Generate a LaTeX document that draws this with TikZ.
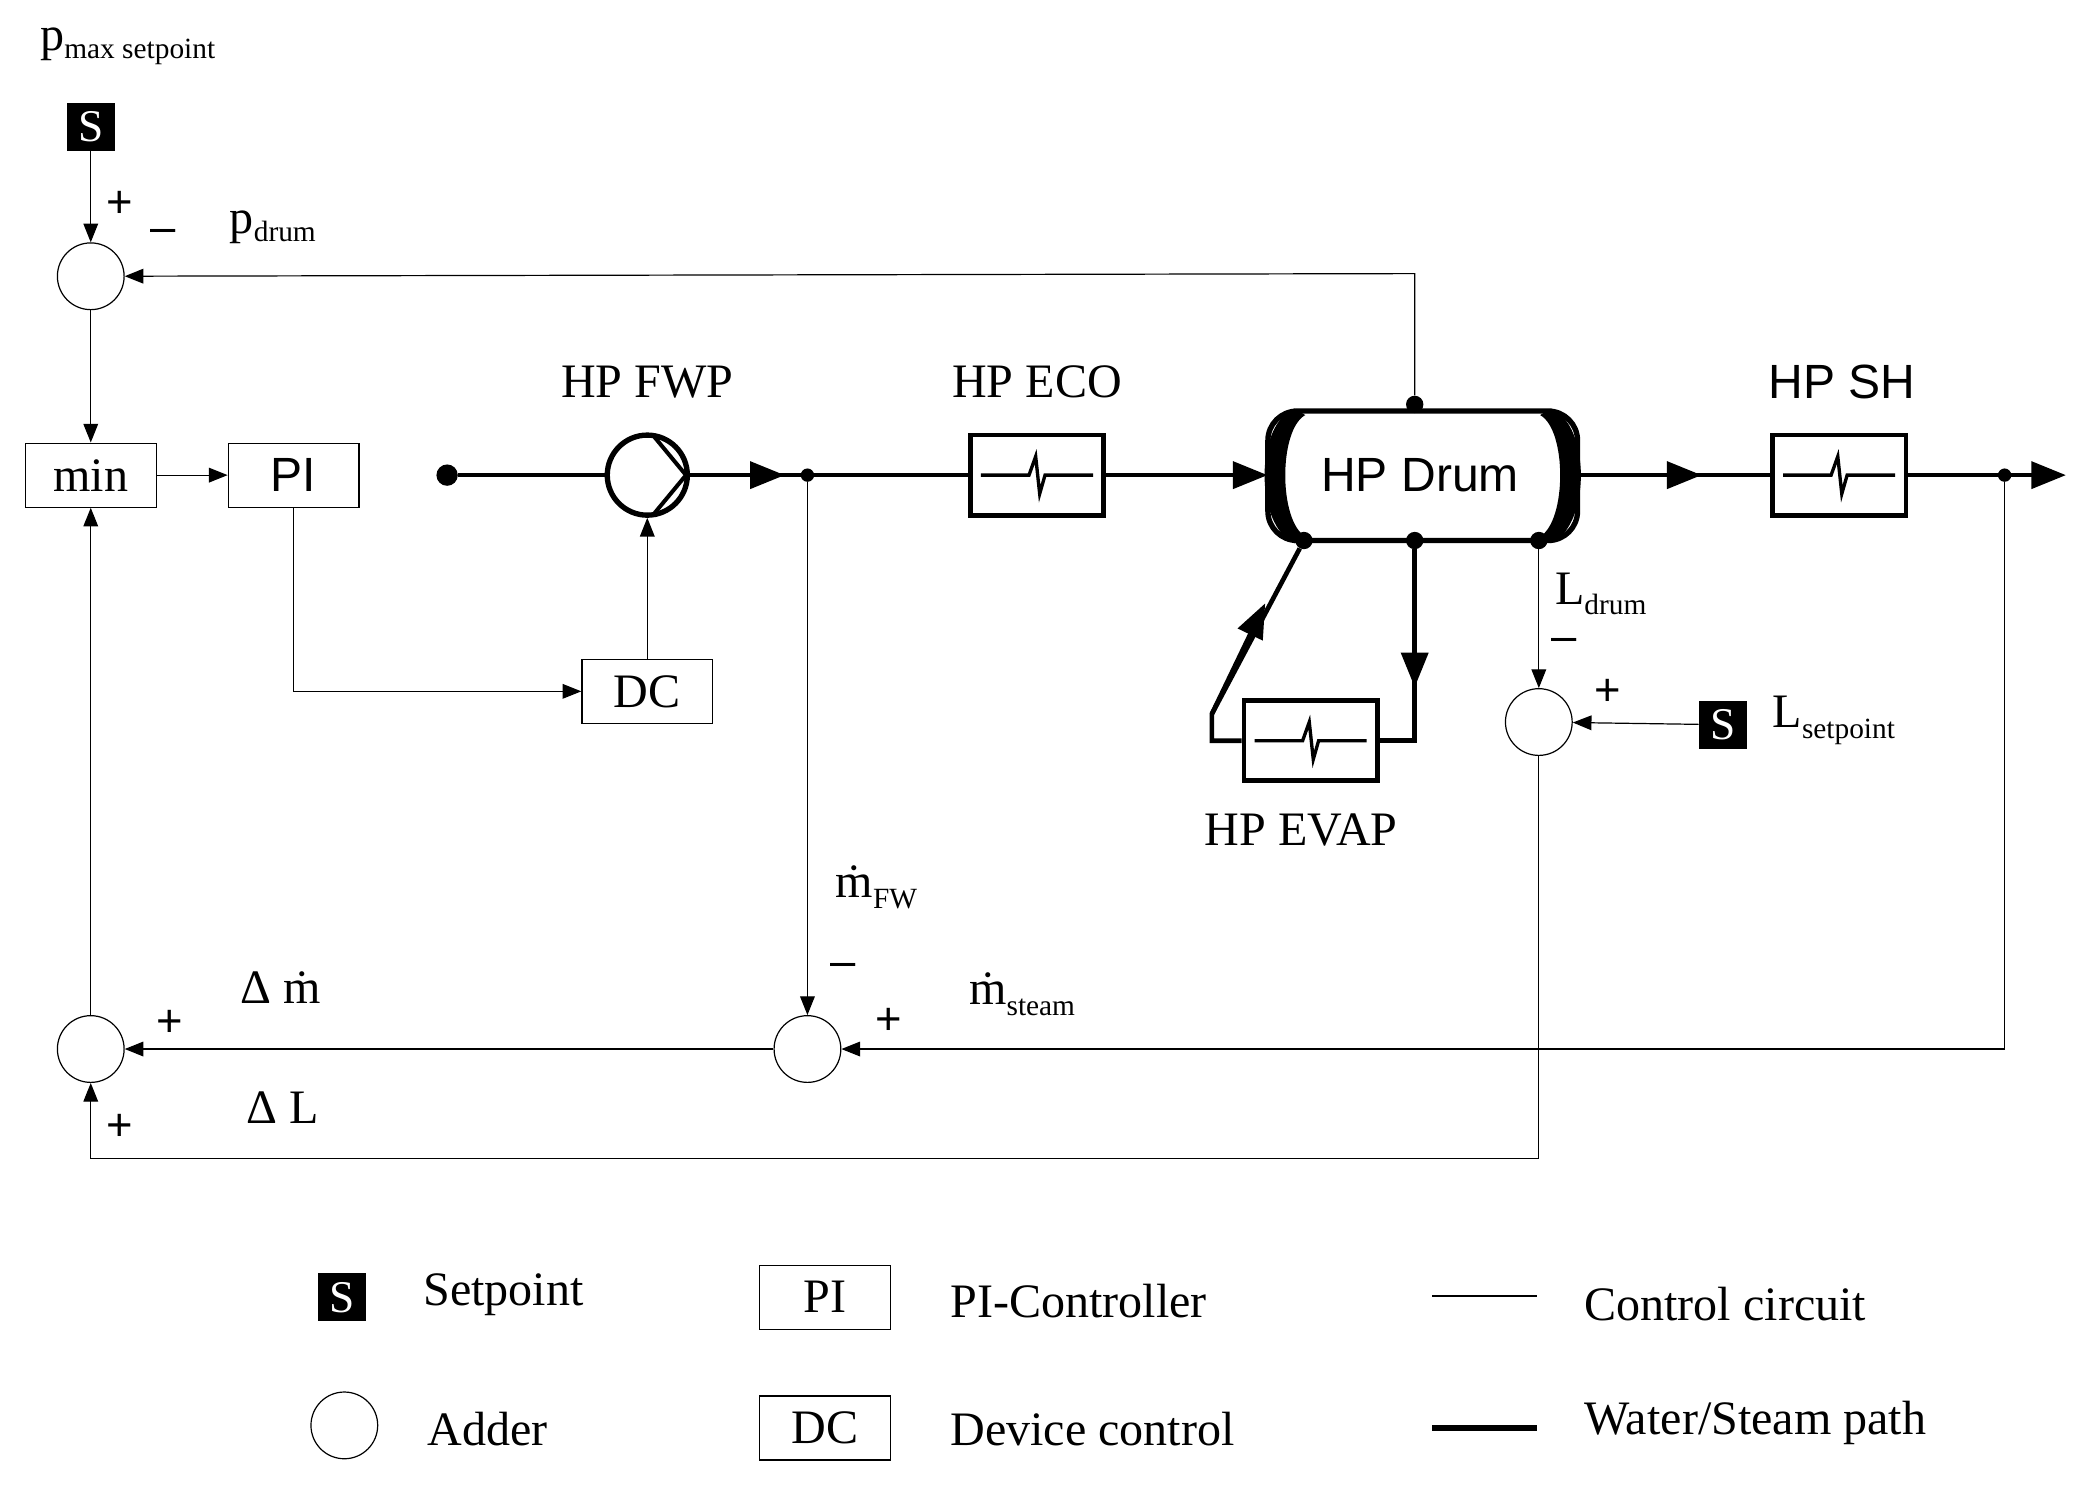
\documentclass[tikz,border=0pt]{standalone}
\usepackage{fontspec}
\setmainfont{Liberation Serif}
\newfontfamily\sansf{Liberation Sans}
\usetikzlibrary{arrows.meta}
\newcommand{\mdot}{\.{m}}
\begin{document}
\begin{tikzpicture}[x=1pt,y=-1pt,
 thin/.style={line width=0.9pt},
 thick/.style={line width=3.5pt},
 arr/.style={-{Triangle[length=14pt,width=11pt]}},
 tarr/.style={-{Triangle[length=26pt,width=20pt]}},
 add/.style={circle,draw,thin,minimum size=50pt,inner sep=0pt},
 box/.style={draw,thin,minimum width=98pt,minimum height=48pt,inner sep=0pt,font=\fontsize{36}{40}\selectfont},
 sp/.style={fill=black,text=white,minimum size=36pt,inner sep=0pt,font=\fontsize{34}{36}\selectfont},
 hx/.style={draw,line width=3.5pt,minimum width=100pt,minimum height=60pt},
 lab/.style={font=\fontsize{36}{40}\selectfont,inner sep=0pt},
 pm/.style={font=\sansf\fontsize{34}{36}\selectfont,inner sep=0pt},
 dot/.style={circle,fill,inner sep=0pt,minimum size=#1}]
\useasboundingbox (0,0) rectangle (1560,1112);
% top-left
\node[lab,anchor=west] (pmax) at (30,35) {p\raisebox{-6pt}{\fontsize{22}{24}\selectfont max setpoint}};
\node[sp] (s1) at (68,95) {S};
\node[add] (a1) at (68,207) {};
\node[pm] at (90,153) {+};
\node[pm] at (122,177) {–};
\node[lab,anchor=west] (pd) at (172,170) {p\raisebox{-6pt}{\fontsize{22}{24}\selectfont drum}};
\node[box] (min) at (68,356) {min};
\node[box,font=\sansf\fontsize{36}{40}\selectfont] (pi) at (220,356) {PI};
\node[box] (dc) at (485,518) {DC};
\draw[thin,arr] (s1) -- (a1);
\draw[thin,arr] (a1) -- (min);
\draw[thin,arr] (min) -- (pi);
\draw[thin,arr] (pi.south) |- (dc.west);
% water path
\node[dot=16pt] (src) at (335,356) {};
\node[circle,draw,line width=4pt,minimum size=60pt,inner sep=0pt] (pump) at (485,356) {};
\draw[line width=3pt] (490,327) -- (514,356) -- (490,385);
\node[lab] at (485,286) {HP FWP};
\node[dot=10pt] (j1) at (605,356) {};
\node[hx] (eco) at (777,356) {};
\node[lab] at (777,286) {HP ECO};
\node[minimum width=232pt,minimum height=97pt,inner sep=0pt] (drum) at (1066,356) {};
\draw[line width=4pt,rounded corners=22pt] (950,308) rectangle (1182,405);
\fill (970,306) .. controls (940,318) and (940,394) .. (970,407) -- (978,402) .. controls (958,390) and (958,322) .. (978,311) -- cycle;
\fill (1162,306) .. controls (1192,318) and (1192,394) .. (1162,407) -- (1154,402) .. controls (1174,390) and (1174,322) .. (1154,311) -- cycle;
\node[lab,font=\sansf\fontsize{36}{40}\selectfont] at (1064,356) {HP Drum};
\node[hx] (sh) at (1378,356) {};
\node[lab,font=\sansf\fontsize{36}{40}\selectfont] at (1380,286) {HP SH};
\node[dot=10pt] (j2) at (1502,356) {};
\coordinate (out) at (1548,356);
\foreach \b in {eco,sh}{
 \draw[line width=2.5pt] ([xshift=-42pt]\b.center) -- ([xshift=-6pt]\b.center) -- ([xshift=-1pt,yshift=14pt]\b.center) -- ([xshift=2pt,yshift=-14pt]\b.center) -- ([xshift=6pt]\b.center) -- ([xshift=42pt]\b.center);}
\draw[thick] (src) -- (pump);
\draw[thick,tarr] (pump) -- (588,356);
\draw[thick] (580,356) -- (eco);
\draw[thick,tarr] (eco) -- (drum.west);
\draw[thick,tarr] (drum.east) -- (1275,356);
\draw[thick] (1270,356) -- (sh);
\draw[thick,tarr] (sh) -- (out);
% drum dots
\node[dot=13pt] (dt) at (1060,303) {};
\node[dot=13pt] (db1) at (977,405) {};
\node[dot=13pt] (db2) at (1060,405) {};
\node[dot=13pt] (db3) at (1153,405) {};
% evaporator
\node[hx] (evap) at (982,555) {};
\draw[line width=2.5pt] ([xshift=-42pt]evap.center) -- ([xshift=-6pt]evap.center) -- ([xshift=-1pt,yshift=14pt]evap.center) -- ([xshift=2pt,yshift=-14pt]evap.center) -- ([xshift=6pt]evap.center) -- ([xshift=42pt]evap.center);
\node[lab] at (975,622) {HP EVAP};
\draw[thick,tarr] (db2) -- (1060,515);
\draw[thick] (1060,510) |- (evap.east);
\draw[thick] (evap.west) -- (908,555) -- (908,535) -- (db1);
\draw[thick,tarr] (908,535) -- (948,452);
% DC to pump
\draw[thin,arr] (dc) -- (pump);
% p_drum feedback
\draw[thin,arr] (dt) -- (1060,205) -- (a1);
% flow adders
\node[add] (a3) at (605,786) {};
\node[add] (a2) at (68,786) {};
\draw[thin,arr] (j1) -- (a3);
\draw[thin,arr] (a3) -- (a2);
\draw[thin,arr] (a2) -- (min);
\draw[thin,arr] (j2) -- (1502,786) -- (a3);
\node[lab,anchor=west] at (626,665) {\mdot\raisebox{-8pt}{\fontsize{22}{24}\selectfont FW}};
\node[pm] at (632,727) {–};
\node[pm] at (666,765) {+};
\node[lab,anchor=west] at (726,745) {\mdot\raisebox{-8pt}{\fontsize{22}{24}\selectfont steam}};
\node[lab] at (210,740) {Δ \mdot};
\node[pm] at (127,767) {+};
% level
\node[add] (a4) at (1153,541) {};
\node[sp] (s2) at (1291,543) {S};
\node[lab,anchor=west] at (1328,540) {L\raisebox{-8pt}{\fontsize{22}{24}\selectfont setpoint}};
\draw[thin,arr] (db3) -- (a4);
\draw[thin,arr] (s2) -- (a4);
\node[lab,anchor=west] at (1165,445) {L\raisebox{-8pt}{\fontsize{22}{24}\selectfont drum}};
\node[pm] at (1172,483) {–};
\node[pm] at (1205,519) {+};
\draw[thin,arr] (a4) -- (1153,868) -- (68,868) -- (a2);
\node[pm] at (90,845) {+};
\node[lab] at (212,830) {Δ L};
% legend
\node[sp] (ls) at (256,972) {S};
\node[lab,anchor=west] at (317,970) {Setpoint};
\node[add] (la) at (258,1068) {};
\node[lab,anchor=west] at (320,1071) {Adder};
\node[box] (lpi) at (618,972) {PI};
\node[lab,anchor=west] at (712,975) {PI-Controller};
\node[box] (ldc) at (618,1070) {DC};
\node[lab,anchor=west] at (712,1071) {Device control};
\coordinate (l1a) at (1073,971); \coordinate (l1b) at (1152,971);
\draw[thin] (l1a) -- (l1b);
\node[lab,anchor=west] at (1187,977) {Control circuit};
\coordinate (l2a) at (1073,1070); \coordinate (l2b) at (1152,1070);
\draw[line width=5pt] (l2a) -- (l2b);
\node[lab,anchor=west] at (1187,1066) {Water/Steam path};
\end{tikzpicture}
\end{document}
